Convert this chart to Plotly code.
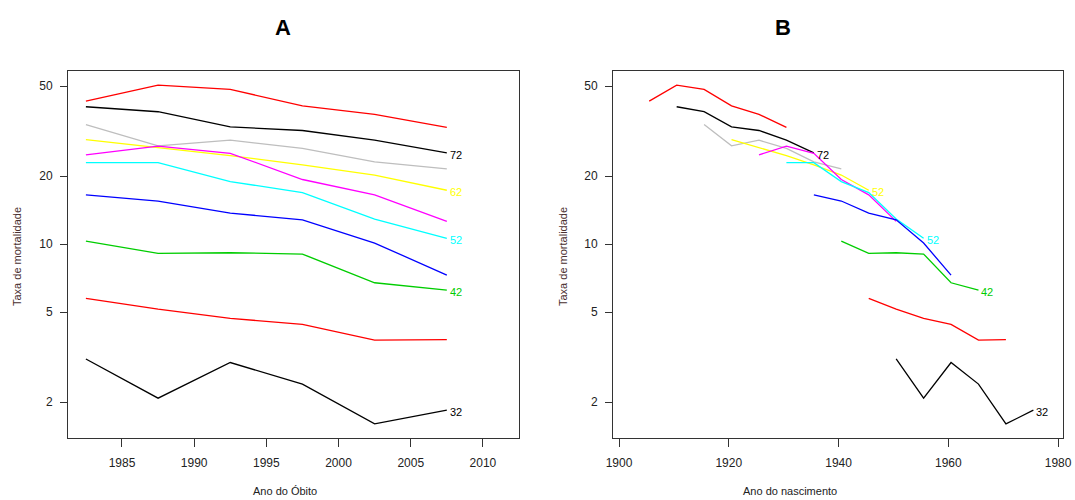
import math
import plotly.graph_objects as go

W, H = 1075, 500


def px(X):
    return X / W


def py(Y):
    return 1 - Y / H


periods = [1982.5, 1987.5, 1992.5, 1997.5, 2002.5, 2007.5]
ages = [77, 72, 67, 62, 57, 52, 47, 42, 37, 32]
colors = ["#FF0000", "#000000", "#BEBEBE", "#FFFF00", "#FF00FF",
          "#00FFFF", "#0000FF", "#00CD00", "#FF0000", "#000000"]

rate_77 = [42.9, 50.5, 48.3, 40.9, 37.5, 32.8]
rate_72 = [40.5, 38.5, 33.0, 31.8, 28.8, 25.3]
rate_67 = [33.8, 27.2, 28.8, 26.5, 23.1, 21.5]
rate_62 = [29.0, 26.8, 24.6, 22.4, 20.2, 17.3]
rate_57 = [24.8, 27.1, 25.2, 19.3, 16.5, 12.6]
rate_52 = [22.9, 22.9, 18.9, 16.9, 12.9, 10.6]
rate_47 = [16.5, 15.5, 13.7, 12.8, 10.1, 7.29]
rate_42 = [10.3, 9.1, 9.15, 9.03, 6.74, 6.25]
rate_37 = [5.75, 5.15, 4.69, 4.41, 3.76, 3.78]
rate_32 = [3.10, 2.08, 2.99, 2.40, 1.60, 1.84]
rates = [rate_77, rate_72, rate_67, rate_62, rate_57,
         rate_52, rate_47, rate_42, rate_37, rate_32]

# labelled ages, text shown in panel A and panel B, colour
label_ages = [72, 62, 52, 42, 32]
label_text_A = ["72", "62", "52", "42", "32"]
label_text_B = ["72", "52", "52", "42", "32"]
label_colors = ["#000000", "#FFFF00", "#00FFFF", "#00CD00", "#000000"]

y_ticks = [2, 5, 10, 20, 50]
xA_ticks = [1985, 1990, 1995, 2000, 2005, 2010]
xB_ticks = [1900, 1920, 1940, 1960, 1980]

FONT = "Liberation Sans, Arial, sans-serif"
TXT = "#222222"

fig = go.Figure()
for age, col, r in zip(ages, colors, rates):
    fig.add_trace(go.Scatter(x=periods, y=r, mode="lines",
                             line=dict(color=col, width=1.3),
                             xaxis="x", yaxis="y", showlegend=False,
                             hoverinfo="skip"))
    cohorts = [p - age for p in periods]
    fig.add_trace(go.Scatter(x=cohorts, y=r, mode="lines",
                             line=dict(color=col, width=1.3),
                             xaxis="x2", yaxis="y2", showlegend=False,
                             hoverinfo="skip"))

annotations = []
for age, tA, tB, col in zip(label_ages, label_text_A, label_text_B, label_colors):
    r = rates[ages.index(age)]
    annotations.append(dict(x=periods[-1], y=math.log10(r[-1]), xref="x", yref="y",
                            text=tA, showarrow=False, xanchor="left",
                            yanchor="middle", xshift=1, yshift=-2,
                            font=dict(family=FONT, size=11, color=col)))
    annotations.append(dict(x=periods[-1] - age, y=math.log10(r[-1]), xref="x2",
                            yref="y2", text=tB, showarrow=False, xanchor="left",
                            yanchor="middle", xshift=1, yshift=-2,
                            font=dict(family=FONT, size=11, color=col)))


def note(X, Y, text, size, color, angle=0):
    return dict(x=px(X), y=py(Y), xref="paper", yref="paper", text=text,
                showarrow=False, xanchor="center", yanchor="middle",
                textangle=angle, font=dict(family=FONT, size=size, color=color))


annotations += [
    note(283, 27, "<b>A</b>", 22, "#000000"),
    note(783, 27, "<b>B</b>", 22, "#000000"),
    note(285, 491, "Ano do Óbito", 11, TXT),
    note(790, 491, "Ano do nascimento", 11, TXT),
    note(17, 257, "Taxa de mortalidade", 11, "#4a3030", -90),
    note(563, 257, "Taxa de mortalidade", 11, "#4a3030", -90),
]

y_range = [math.log10(1.386), math.log10(58.3)]
common_x = dict(showgrid=False, zeroline=False, showline=True, mirror=True,
                linecolor="#333333", linewidth=1, ticks="outside", ticklen=8,
                tickcolor="#333333", tickwidth=1, ticklabelstandoff=6,
                tickfont=dict(family=FONT, size=12, color=TXT), automargin=False)
common_y = dict(type="log", range=y_range, tickvals=y_ticks,
                ticktext=[str(v) for v in y_ticks],
                showgrid=False, zeroline=False, showline=True, mirror=True,
                linecolor="#333333", linewidth=1, ticks="outside", ticklen=7,
                tickcolor="#333333", tickwidth=1, ticklabelstandoff=5,
                tickfont=dict(family=FONT, size=12, color=TXT), automargin=False)

ydom = [py(438), py(71)]
fig.update_layout(
    width=W, height=H,
    margin=dict(l=0, r=0, t=0, b=0),
    paper_bgcolor="white", plot_bgcolor="white",
    xaxis=dict(domain=[px(68), px(519)], range=[1981.26, 2012.5],
               tickvals=xA_ticks, anchor="y", **common_x),
    yaxis=dict(domain=ydom, anchor="x", **common_y),
    xaxis2=dict(domain=[px(613), px(1063)], range=[1898.9, 1980.9],
                tickvals=xB_ticks, anchor="y2", **common_x),
    yaxis2=dict(domain=ydom, anchor="x2", **common_y),
    annotations=annotations,
)

fig.write_html(
    "out.html",
    config={"displayModeBar": False},
    post_script="document.body.style.margin='0';"
                "document.body.style.overflow='hidden';",
)
